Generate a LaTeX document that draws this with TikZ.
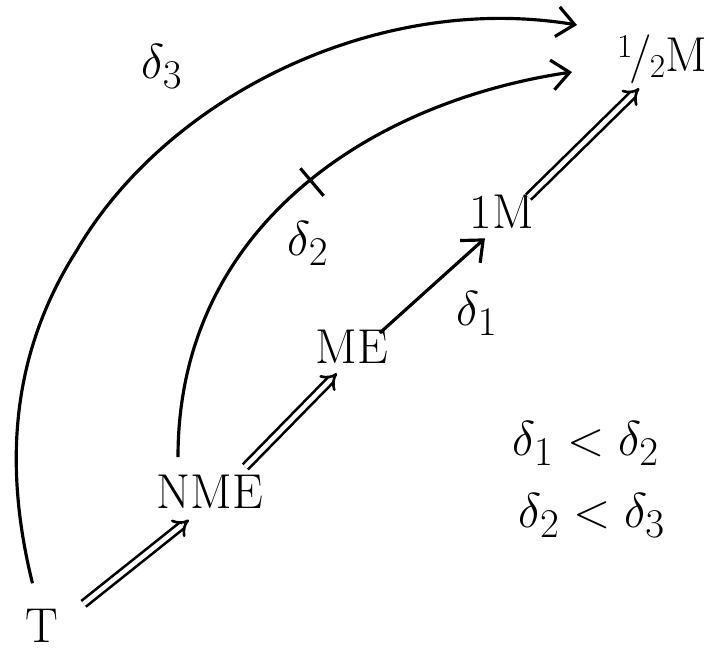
\documentclass[tikz,border=0pt]{standalone}
\usepackage{tikz}
\usetikzlibrary{arrows.meta, decorations.markings}

\newcommand{\halfnum}{%
  \raisebox{0.3em}{\fontsize{17}{19}\selectfont 1}\kern-0.05em
  /\kern-0.05em\raisebox{-0.12em}{\fontsize{17}{19}\selectfont 2}}

\begin{document}
\begin{tikzpicture}[
    font=\Huge,
    >={Straight Barb[length=3.5mm, width=6mm]},
    lbl/.style={
      scale=1.12,
      inner sep=3.6pt,
      text height=0.7em,
      text depth=0.1em
    },
    seq/.style={
      line width=1.5pt,
      double,
      double distance=2.6pt,
      -{Implies}
    },
    sweep/.style={
      line width=1.8pt,
      ->
    }
  ]
  \useasboundingbox (0,0) rectangle (14.16,13.04);
  % chain of models
  \node[lbl] (T) at (0.84,0.30) {T};
  \node[lbl] (NME) at (4.20,2.98) {NME};
  \node[lbl] (ME) at (7.04,5.88) {ME};
  \node[lbl] (oneM) at (10.04,8.58) {1M};
  \node[lbl] (halfM) at (13.24,11.72) {\halfnum M};
  % distances
  \node[lbl] (d3) at (3.24,11.58) {$\delta_3$};
  \node[lbl] (d2) at (6.16,8.04) {$\delta_2$};
  \node[lbl] (d1) at (9.54,6.64) {$\delta_1$};
  \node[lbl] (ord1) at (11.72,4.04) {$\delta_1 < \delta_2$};
  \node[lbl] (ord2) at (11.84,2.60) {$\delta_2 < \delta_3$};
  \coordinate (d2end) at (11.44,11.60);
  \coordinate (d3end) at (11.54,12.54);
  \draw[seq, shorten <=0.57cm, shorten >=0.05cm] (T) -- (NME);
  \draw[seq, shorten <=0.58cm] (NME) -- (ME);
  \draw[sweep, shorten <=0.29cm] (ME) -- (oneM);
  \draw[seq, shorten <=0.30cm, shorten >=0.20cm] (oneM) -- (halfM);
  \draw[sweep, shorten <=0.61cm,
    postaction={decorate, decoration={markings,
      mark=at position 6.9cm with {\draw[-, shorten <=0pt, line width=1.8pt] (0,-3.6mm) -- (0,3.6mm);}}}]
    ([xshift=-0.64cm]NME.north) .. controls (3.56,8.5) and (7.4,11.0) .. (d2end);
  \draw[sweep, shorten <=0.79cm] (T.north) .. controls (0.02,3.91) and (0.30,6.1) .. (1.54,8.04)
    .. controls (3.36,11.14) and (7.58,13.2) .. (d3end);
\end{tikzpicture}
\end{document}
